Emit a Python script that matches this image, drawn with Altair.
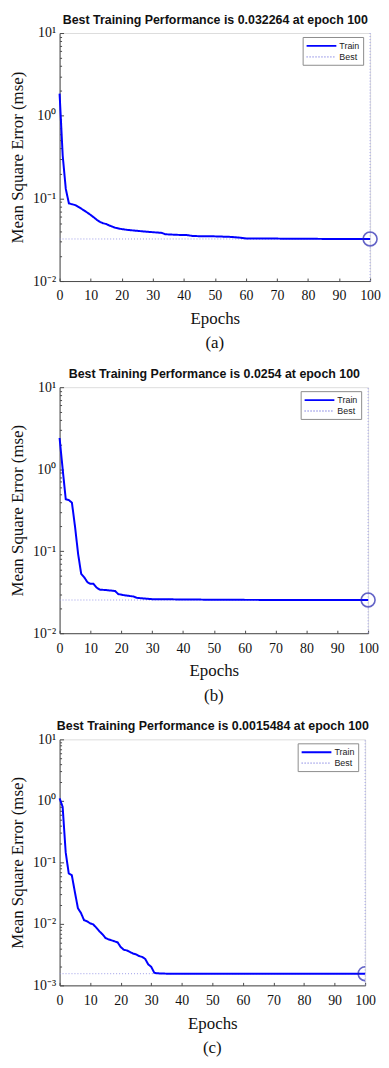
import altair as alt
import pandas as pd

# ---------------- data ----------------
A_EPOCH = [0, 1, 2, 3, 4, 5, 6, 7, 8, 9, 10, 11, 12, 13, 14, 15, 16, 17, 18, 20,
           22, 25, 28, 30, 33, 34, 38, 41, 43, 50, 55, 58, 60, 70, 80, 90, 100]
A_MSE = [1.85, 0.33, 0.13, 0.087, 0.085, 0.083, 0.079, 0.075, 0.071, 0.067, 0.063,
         0.059, 0.055, 0.052, 0.050, 0.049, 0.047, 0.0455, 0.044, 0.0425, 0.0415,
         0.0405, 0.0395, 0.039, 0.0382, 0.0368, 0.0362, 0.036, 0.035, 0.0347,
         0.0342, 0.0335, 0.0328, 0.0326, 0.0324, 0.0323, 0.032264]
A_BEST = 0.032264

B_EPOCH = [0, 1, 2, 3, 4, 5, 6, 7, 8, 9, 10, 11, 12, 13, 15, 18, 19, 21, 24, 25,
           30, 40, 50, 60, 100]
B_MSE = [2.4, 1.0, 0.43, 0.42, 0.39, 0.2, 0.093, 0.053, 0.048, 0.042, 0.040, 0.040,
         0.036, 0.034, 0.0336, 0.0327, 0.030, 0.029, 0.028, 0.027, 0.026, 0.0258,
         0.0256, 0.0255, 0.0254]
B_BEST = 0.0254

C_EPOCH = [0, 1, 2, 3, 4, 5, 6, 7, 8, 9, 10, 11, 12, 13, 14, 15, 16, 17, 18, 19,
           20, 21, 22, 23, 24, 25, 26, 27, 28, 29, 30, 31, 32, 35, 100]
C_MSE = [1.1, 0.8, 0.145, 0.066, 0.062, 0.033, 0.018, 0.015, 0.0115, 0.011, 0.0102,
         0.0098, 0.0087, 0.0076, 0.0068, 0.0059, 0.0056, 0.0054, 0.0052, 0.005,
         0.0042, 0.0038, 0.0037, 0.0035, 0.0033, 0.0032, 0.0030, 0.0029, 0.0027,
         0.0022, 0.002, 0.0016, 0.00157, 0.00155, 0.0015484]
C_BEST = 0.0015484

TITLES = [
    "Best Training Performance is 0.032264 at epoch 100",
    "Best Training Performance is 0.0254 at epoch 100",
    "Best Training Performance is 0.0015484 at epoch 100",
]
CAPTIONS = ["(a)", "(b)", "(c)"]
SERIES = ["Train", "Best"]
X_TICKS = [0, 10, 20, 30, 40, 50, 60, 70, 80, 90, 100]
Y_TICK_VALUES = [0.001, 0.01, 0.1, 1, 10]
Y_TICK_LABELS = ["10\u207b\u00b3", "10\u207b\u00b2", "10\u207b\u00b9", "10\u2070", "10\u00b9"]
BEST_EPOCH = 100

SERIF = "Liberation Serif"
SANS = "Liberation Sans"
AXIS_COLOR = "#4a4a4a"

label_expr = ""
for v, lab in zip(Y_TICK_VALUES, Y_TICK_LABELS):
    label_expr += f"datum.value < {v * 1.5} ? '{lab}' : "
label_expr += "''"


def panel(epochs, mse, best, ymin, width, height, title, caption, clip):
    ymax = 10
    majors = [v for v in Y_TICK_VALUES if ymin <= v <= ymax]
    minors = []
    d = ymin
    while d < ymax:
        minors += [d * k for k in range(2, 10)]
        d *= 10

    train = pd.DataFrame({"epoch": epochs, "mse": mse, "series": "Train",
                          "seg": 0, "ord": list(range(len(epochs)))})
    bestdf = pd.DataFrame({
        "epoch": [0, BEST_EPOCH, BEST_EPOCH, BEST_EPOCH],
        "mse": [best, best, ymin, ymax],
        "series": "Best", "seg": [0, 0, 1, 1], "ord": [0, 1, 0, 1]})
    pt = pd.DataFrame({"epoch": [BEST_EPOCH], "mse": [best]})

    xs = alt.Scale(domain=[0, 100], nice=False, zero=False)
    ys = alt.Scale(type="log", domain=[ymin, ymax], nice=False)

    leg = alt.Legend(title=None, orient="none", legendX=width - 68, legendY=4,
                     symbolType="M-1,0H5", symbolSize=100,
                     symbolStrokeWidth=1.8,
                     labelFont=SANS, labelFontSize=9, labelColor="#222",
                     strokeColor="#8c8c8c", fillColor="white", padding=3,
                     rowPadding=0, labelOffset=22, cornerRadius=0)
    color = alt.Color("series:N", scale=alt.Scale(domain=SERIES, range=["#0000ff", "#9c9ce8"]),
                      legend=leg)
    dash = alt.StrokeDash("series:N", scale=alt.Scale(domain=SERIES, range=[[1, 0], [1, 2]]),
                          legend=leg)

    x_main = alt.Axis(values=X_TICKS, ticks=False, tickSize=0, grid=False, domain=True,
                      domainColor=AXIS_COLOR, labelFont=SERIF, labelFontSize=14,
                      labelColor="#111", labelPadding=8, labelFlush=False,
                      title="Epochs", titleFont=SERIF, titleFontSize=17,
                      titleFontWeight="normal", titleColor="#111",
                      titlePadding=8, orient="bottom")
    y_main = alt.Axis(values=majors, ticks=False, tickSize=0, grid=False, domain=True,
                      domainColor=AXIS_COLOR, labelFont=SERIF, labelFontSize=14,
                      labelColor="#111", labelPadding=4, labelFlush=False,
                      labelExpr=label_expr, title="Mean Square Error (mse)",
                      titleFont=SERIF, titleFontSize=17, titleFontWeight="normal",
                      titleColor="#111", titlePadding=6, orient="left")
    x_top = alt.Axis(values=X_TICKS, ticks=False, tickSize=0, grid=False, domain=False,
                     labels=False, labelPadding=0, title=title, titleFont=SANS,
                     titleFontSize=12.5, titleFontWeight="bold", titleColor="#111",
                     titlePadding=7, orient="top")
    x_ticks = alt.Axis(values=X_TICKS, ticks=True, tickSize=3, offset=-3, grid=False,
                       domain=False, labels=False, title="", tickColor=AXIS_COLOR,
                       orient="bottom")
    y_ticks = alt.Axis(values=majors, ticks=True, tickSize=4, offset=-4, grid=False,
                       domain=False, labels=False, title="", tickColor=AXIS_COLOR,
                       orient="left")
    y_minor = alt.Axis(values=minors, ticks=True, tickSize=2, offset=-2, grid=False,
                       domain=False, labels=False, title="", tickColor=AXIS_COLOR,
                       orient="left")

    best_layer = alt.Chart(bestdf).mark_line(strokeWidth=1).encode(
        x=alt.X("epoch:Q", scale=xs, axis=x_ticks),
        y=alt.Y("mse:Q", scale=ys, axis=y_ticks),
        color=color, strokeDash=dash, detail="seg:N", order="ord:Q")
    train_layer = alt.Chart(train).mark_line(strokeWidth=2).encode(
        x=alt.X("epoch:Q", scale=xs, axis=x_main),
        y=alt.Y("mse:Q", scale=ys, axis=y_main),
        color=color, strokeDash=dash, detail="seg:N", order="ord:Q")
    point_layer = alt.Chart(pt).mark_point(shape="circle", filled=False, size=196,
                                           stroke="#2222b0", strokeWidth=1.6,
                                           clip=clip).encode(
        x=alt.X("epoch:Q", scale=xs, axis=x_top),
        y=alt.Y("mse:Q", scale=ys, axis=y_minor))

    return alt.layer(best_layer, train_layer, point_layer).resolve_axis(
        x="independent", y="independent").properties(
        width=width, height=height,
        title=alt.TitleParams(caption, orient="bottom", font=SERIF, fontSize=17,
                              fontWeight="normal", color="#111", anchor="middle",
                              frame="group", offset=9))


pa = panel(A_EPOCH, A_MSE, A_BEST, 0.01, 313, 250, TITLES[0], CAPTIONS[0], False)
pb = panel(B_EPOCH, B_MSE, B_BEST, 0.01, 311, 248, TITLES[1], CAPTIONS[1], False)
pc = panel(C_EPOCH, C_MSE, C_BEST, 0.001, 308, 248, TITLES[2], CAPTIONS[2], True)

chart = alt.vconcat(pa, pb, pc, spacing=14).resolve_scale(
    color="independent", strokeDash="independent", x="independent",
    y="independent").properties(padding=0).configure_view(
    stroke=None).configure(background="white")

chart.save("out.html", embed_options={"renderer": "svg", "actions": False})
